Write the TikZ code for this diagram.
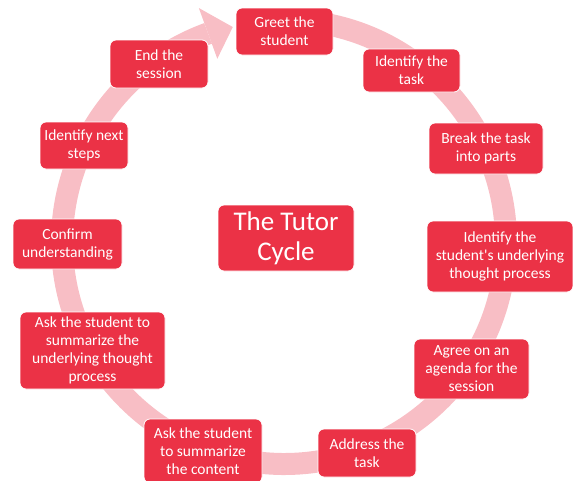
\documentclass[tikz,border=0pt]{standalone}
\usepackage{fontspec}
\setmainfont{Carlito}
\usetikzlibrary{calc}
\definecolor{boxred}{RGB}{235,50,70}
\definecolor{ringpink}{RGB}{248,190,197}
\begin{document}
\begin{tikzpicture}[x=1pt,y=1pt,
  stepbox/.style={draw=white, line width=0.8pt, fill=boxred, rounded corners=6pt,
    text=white, align=center, font=\fontsize{15.5}{18}\selectfont, inner sep=0pt},
  ringline/.style={draw=ringpink, line width=22pt},
  ringhead/.style={fill=ringpink}]
\useasboundingbox (0,0) rectangle (573,-480);
\coordinate (C) at (284,-242);
\draw[ringline] ($(C)+(85:222)$) arc[start angle=85,end angle=-250,radius=222];
\fill[ringhead] ($(C)+(110:195)$) -- ($(C)+(110:249)$) -- ($(C)+(103.4:221)$) -- cycle;
\node[stepbox, minimum width=97pt, minimum height=47pt] (greet) at (284.5,-31.5) {Greet the\\student};
\node[stepbox, minimum width=97pt, minimum height=43pt] (idtask) at (411.5,-70.5) {Identify the\\task};
\node[stepbox, minimum width=114pt, minimum height=51pt] (break) at (486,-148.5) {Break the task\\into parts};
\node[stepbox, minimum width=146pt, minimum height=71pt] (idthought) at (500,-256.5) {Identify the\\student\textquotesingle s underlying\\thought process};
\node[stepbox, minimum width=115pt, minimum height=60pt] (agree) at (471.5,-369) {Agree on an\\agenda for the\\session};
\node[stepbox, minimum width=98pt, minimum height=48pt] (address) at (367,-453) {Address the\\task};
\node[stepbox, minimum width=118pt, minimum height=64pt] (askcontent) at (203,-451) {Ask the student\\to summarize\\the content};
\node[stepbox, minimum width=145pt, minimum height=77pt] (askthought) at (92.5,-350.5) {Ask the student to\\summarize the\\underlying thought\\process};
\node[stepbox, minimum width=109pt, minimum height=50pt] (confirm) at (67.5,-244) {Confirm\\understanding};
\node[stepbox, minimum width=88pt, minimum height=47pt] (nextsteps) at (84,-145.5) {Identify next\\steps};
\node[stepbox, minimum width=98pt, minimum height=48pt] (endsess) at (159,-64) {End the\\session};
\node[stepbox, minimum width=136pt, minimum height=66pt, font=\fontsize{27}{30}\selectfont] (tutor) at (286,-238) {The Tutor\\Cycle};
\end{tikzpicture}
\end{document}
